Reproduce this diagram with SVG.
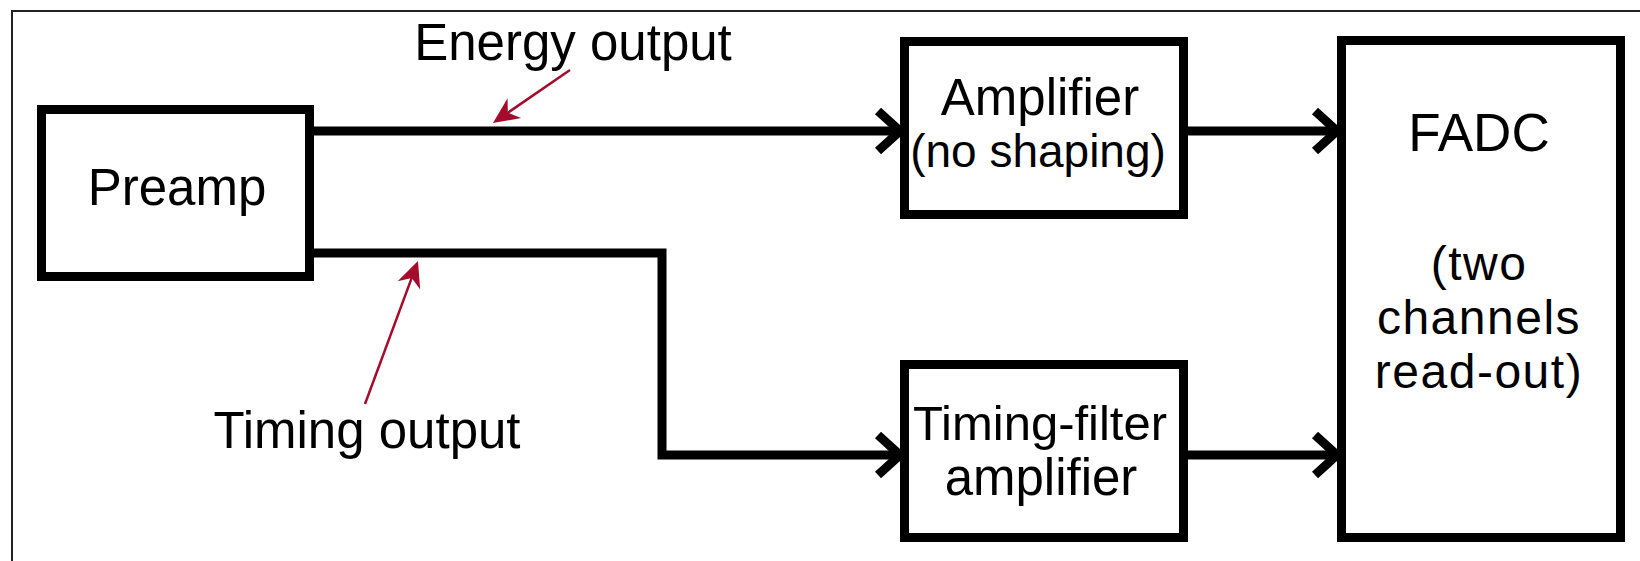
<svg xmlns="http://www.w3.org/2000/svg" width="1640" height="561" viewBox="0 0 1640 561">
  <style>
    .box { fill: #ffffff; stroke: #000000; stroke-width: 9; }
    .wire { fill: none; stroke: #000000; stroke-width: 9; stroke-linejoin: miter; }
    .note { fill: none; stroke: #a50c2c; stroke-width: 2.5; }
    .lbl { font-family: "Liberation Sans", Arial, sans-serif; fill: #000000; text-anchor: middle; font-size: 51px; }
    .sm { font-size: 46px; }
    .big { font-size: 53px; }
    .fl { font-size: 48px; letter-spacing: 1.5px; }
  </style>
  <defs>
    <marker id="chev" viewBox="-30 -28 40 56" refX="-4" refY="0" markerWidth="40" markerHeight="56" markerUnits="userSpaceOnUse" orient="auto" overflow="visible">
      <path d="M-22,-20 L0,0 L-22,20" fill="none" stroke="#000000" stroke-width="9"/>
    </marker>
    <marker id="red" viewBox="-30 -14 34 28" refX="-10" refY="0" markerWidth="34" markerHeight="28" markerUnits="userSpaceOnUse" orient="auto" overflow="visible">
      <path d="M0,0 L-26,-12 L-18,0 L-26,12 Z" fill="#a50c2c"/>
    </marker>
  </defs>

  <rect x="0" y="0" width="1640" height="561" fill="#ffffff"/>
  <path d="M12,561 V11 H1640" fill="none" stroke="#222222" stroke-width="2"/>

  <g id="connectors">
    <path class="wire" d="M314,131 H896" marker-end="url(#chev)"/>
    <path class="wire" d="M1188,131 H1333" marker-end="url(#chev)"/>
    <path class="wire" d="M314,253 H662 V455 H896" marker-end="url(#chev)"/>
    <path class="wire" d="M1188,455 H1333" marker-end="url(#chev)"/>
  </g>

  <g id="preamp">
    <rect class="box" x="41.5" y="109.5" width="268" height="167"/>
    <text class="lbl" x="177" y="205">Preamp</text>
  </g>

  <g id="amplifier">
    <rect class="box" x="904.5" y="41.5" width="279" height="173"/>
    <text class="lbl" x="1040" y="115">Amplifier</text>
    <text class="lbl sm" x="1038" y="167">(no shaping)</text>
  </g>

  <g id="timing-filter-amplifier">
    <rect class="box" x="904.5" y="364.5" width="279" height="173"/>
    <text class="lbl" x="1040" y="440" style="font-size:49px">Timing-filter</text>
    <text class="lbl" x="1041" y="495">amplifier</text>
  </g>

  <g id="fadc">
    <rect class="box" x="1341.5" y="40.5" width="279" height="497"/>
    <text class="lbl big" x="1479" y="151">FADC</text>
    <text class="lbl fl" x="1479" y="280">(two</text>
    <text class="lbl fl" x="1479" y="334">channels</text>
    <text class="lbl fl" x="1479" y="388">read-out)</text>
  </g>

  <g id="energy-output-label">
    <text class="lbl" x="573" y="60">Energy output</text>
    <path class="note" d="M570,70 L501.2,117.3" marker-end="url(#red)"/>
  </g>

  <g id="timing-output-label">
    <text class="lbl" x="367" y="448">Timing output</text>
    <path class="note" d="M365,404 L414.5,270.4" marker-end="url(#red)"/>
  </g>
</svg>
